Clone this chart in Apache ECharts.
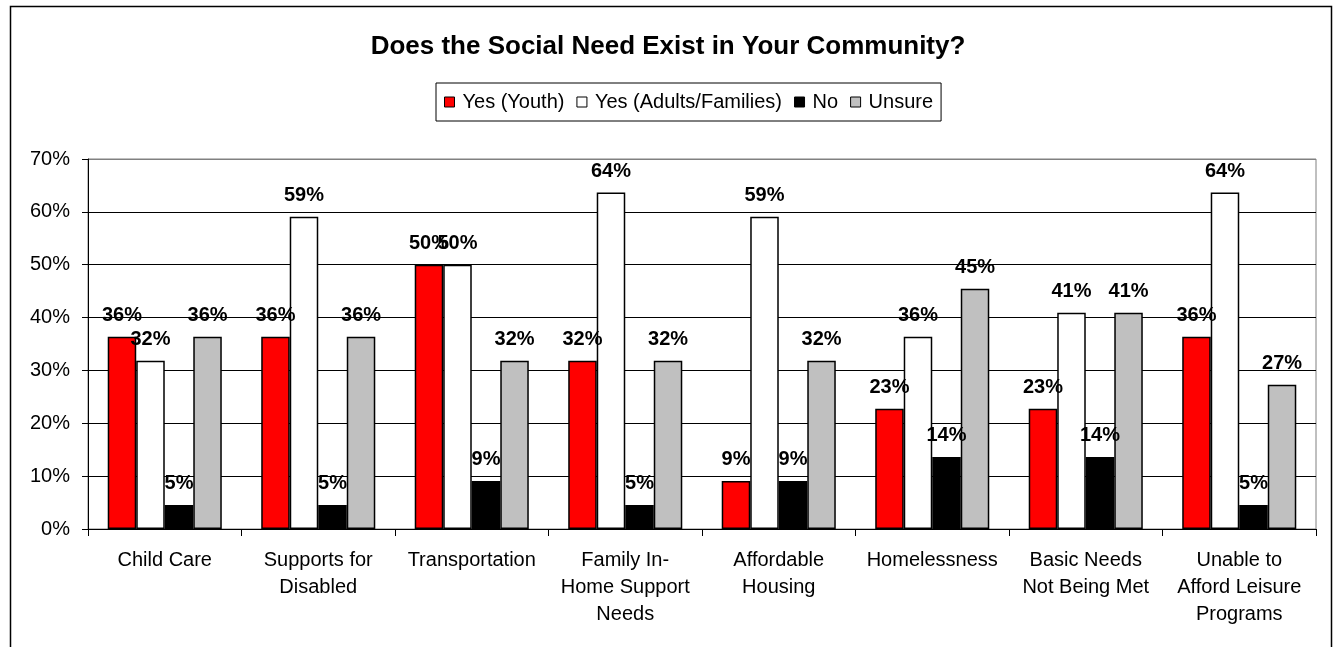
<!DOCTYPE html>
<html>
<head>
<meta charset="utf-8">
<script src="https://cdn.jsdelivr.net/npm/echarts@6/dist/echarts.min.js"></script>
<style>
  html, body { margin: 0; padding: 0; background: #fff; }
  #chart { width: 1336px; height: 647px; }
</style>
</head>
<body>
<div id="chart"></div>
<script>
// Survey answers: share of respondents (%) per social need
const categories = [
  'Child Care',
  'Supports for\nDisabled',
  'Transportation',
  'Family In-\nHome Support\nNeeds',
  'Affordable\nHousing',
  'Homelessness',
  'Basic Needs\nNot Being Met',
  'Unable to\nAfford Leisure\nPrograms'
];
const seriesNames = ['Yes (Youth)', 'Yes (Adults/Families)', 'No', 'Unsure'];
const yesYouth    = [36.36, 36.36, 50.00, 31.82,  9.09, 22.73, 22.73, 36.36];
const yesAdults   = [31.82, 59.09, 50.00, 63.64, 59.09, 36.36, 40.91, 63.64];
const no          = [ 4.55,  4.55,  9.09,  4.55,  9.09, 13.64, 13.64,  4.55];
const unsure      = [36.36, 36.36, 31.82, 31.82, 31.82, 45.45, 40.91, 27.27];
const yTicks = [0, 70, 10]; // min, max, interval

const FONT = '"Liberation Sans", Arial, Helvetica, sans-serif';
const colors = ['#FF0000', '#FFFFFF', '#000000', '#C0C0C0'];
const values = [yesYouth, yesAdults, no, unsure];

const chart = echarts.init(document.getElementById('chart'), null, { renderer: 'canvas' });

const series = seriesNames.map((name, i) => ({
  name: name,
  type: 'bar',
  data: values[i],
  barGap: '0%',
  barCategoryGap: '25.7%',
  itemStyle: { color: colors[i], borderColor: '#000', borderWidth: 1.5 },
  label: {
    show: true,
    position: 'top',
    distance: 11,
    color: '#000',
    fontFamily: FONT,
    fontWeight: 'bold',
    fontSize: 20,
    formatter: p => Math.round(p.value) + '%'
  },
  emphasis: { disabled: true }
}));

chart.setOption({
  animation: false,
  backgroundColor: '#fff',
  title: {
    text: 'Does the Social Need Exist in Your Community?',
    left: 'center',
    top: 29,
    textStyle: { fontFamily: FONT, fontWeight: 'bold', fontSize: 26, color: '#000' }
  },
  legend: {
    data: seriesNames,
    left: 436,
    top: 83,
    orient: 'horizontal',
    itemWidth: 10,
    itemHeight: 10,
    itemGap: 12,
    padding: [9, 8],
    borderColor: '#000',
    borderWidth: 1,
    icon: 'rect',
    itemStyle: { borderColor: '#000', borderWidth: 1 },
    textStyle: { fontFamily: FONT, fontSize: 20, color: '#000', padding: [0, 0, 0, 3] }
  },
  grid: {
    left: 88,
    right: 20,
    top: 159,
    bottom: 118,
    show: true,
    borderColor: '#808080',
    borderWidth: 1
  },
  xAxis: {
    type: 'category',
    data: categories,
    axisLine: { lineStyle: { color: '#000', width: 1 } },
    axisTick: { show: true, length: 7, lineStyle: { color: '#000' } },
    axisLabel: {
      interval: 0,
      margin: 18,
      color: '#000',
      fontFamily: FONT,
      fontSize: 20,
      lineHeight: 27,
      align: 'center'
    }
  },
  yAxis: {
    type: 'value',
    min: yTicks[0],
    max: yTicks[1],
    interval: yTicks[2],
    axisLine: { show: true, lineStyle: { color: '#000', width: 1 } },
    axisTick: { show: true, length: 6, lineStyle: { color: '#000' } },
    axisLabel: {
      formatter: '{value}%',
      margin: 18,
      color: '#000',
      fontFamily: FONT,
      fontSize: 20
    },
    splitLine: {
      show: true,
      lineStyle: {
        color: ['#000', '#000', '#000', '#000', '#000', '#000', '#000', '#808080'],
        width: 1
      }
    }
  },
  graphic: [{
    type: 'rect',
    left: 8,
    top: 4,
    shape: { width: 1321, height: 700 },
    style: { fill: 'none', stroke: '#000', lineWidth: 1.5 },
    silent: true,
    z: 100
  }],
  series: series
});
</script>
</body>
</html>
